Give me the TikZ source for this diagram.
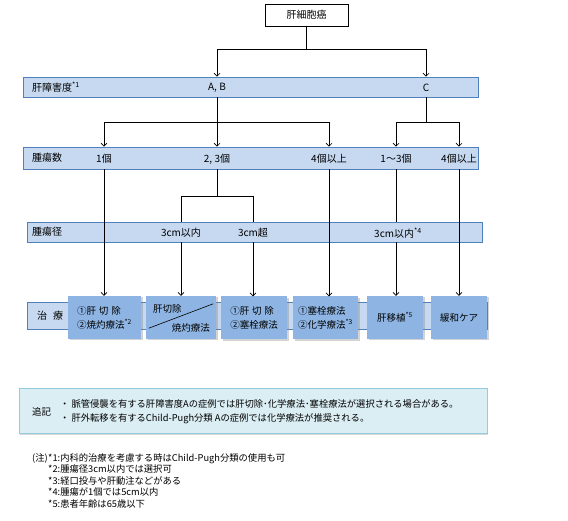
\documentclass[tikz,border=0pt]{standalone}
\usepackage{fontspec}
\setmainfont{Noto Sans CJK JP}
\usetikzlibrary{arrows.meta,shadows}
\definecolor{bandfill}{HTML}{C6D9F1}
\definecolor{banddraw}{HTML}{4F81BD}
\definecolor{boxfill}{HTML}{8DB4E2}
\definecolor{notefill}{HTML}{DBEEF4}
\definecolor{notedraw}{HTML}{93CDDD}
\tikzset{
  arr/.style={-{Straight Barb[length=3pt,width=6pt]}, line width=0.6pt},
  conn/.style={line width=0.6pt},
  band/.style={draw=banddraw, fill=bandfill, line width=0.8pt, inner sep=0pt,
    drop shadow={opacity=0.3, shadow xshift=1pt, shadow yshift=-1.5pt}},
  bandlabel/.style={anchor=west, inner sep=0pt, font=\fontsize{10}{12}\selectfont},
  treat/.style={fill=boxfill, inner sep=0pt, minimum height=43pt, align=left,
    font=\fontsize{9.5}{14}\selectfont,
    drop shadow={opacity=0.35, shadow xshift=1.5pt, shadow yshift=-1.5pt}}
}
\begin{document}
\begin{tikzpicture}[x=1pt,y=-1pt,font=\fontsize{10}{12}\selectfont]
\useasboundingbox (0,0) rectangle (568,521);
% bands
 \node[band, minimum width=455pt, minimum height=20pt] (liver) at (250.5,87) {};
 \node[band, minimum width=455pt, minimum height=22pt] (count) at (250.5,158) {};
 \node[band, minimum width=455pt, minimum height=20pt] (size) at (254.5,232) {};
 \node[band, minimum width=460pt, minimum height=27pt] (cure) at (257,315.5) {};
 \node[bandlabel] (liverlab) at (32,87) {肝障害度\textsuperscript{*1}};
 \node[bandlabel] (countlab) at (32,158) {腫瘍数};
 \node[bandlabel] (sizelab) at (32,232) {腫瘍径};
 \node[bandlabel] (curelab) at (37,315.5) {治\hspace{0.6em}療};
% values
 \node[draw, fill=white, line width=0.8pt, minimum width=83pt, minimum height=22pt] (hcc) at (306.5,15) {肝細胞癌};
 \begin{scope}[every node/.style={inner sep=1pt}]
  \node (ab) at (217,88) {A, B};
  \node (c) at (426,88) {C};
  \node (n1) at (104,159) {1個};
  \node (n23) at (217,159) {2, 3個};
  \node (n4) at (329,159) {4個以上};
  \node (n13) at (396,159) {1〜3個};
  \node (n4c) at (459,159) {4個以上};
  \node (s3a) at (181,233) {3cm以内};
  \node (s3b) at (253,233) {3cm超};
  \node (s3c) at (398,233) {3cm以内\textsuperscript{*4}};
 \end{scope}
% treatments
 \begin{scope}[every node/.style={treat}]
  \node[minimum width=73pt] (t1) at (104.5,317.5) {①肝\hspace{0.3em}切\hspace{0.3em}除\\②焼灼療法\textsuperscript{*2}};
  \node[minimum width=70pt] (t2) at (181,317.5) {};
  \node[minimum width=66pt] (t3) at (254,318) {①肝\hspace{0.3em}切\hspace{0.3em}除\\②塞栓療法};
  \node[minimum width=65pt] (t4) at (325.5,318) {①塞栓療法\\②化学療法\textsuperscript{*3}};
  \node[minimum width=56pt] (t5) at (395,317.5) {肝移植\textsuperscript{*5}};
  \node[minimum width=56pt] (t6) at (459,317.5) {緩和ケア};
 \end{scope}
 \node[inner sep=0pt, anchor=west, font=\fontsize{9.5}{12}\selectfont] (t2a) at (153,309) {肝切除};
 \node[inner sep=0pt, anchor=east, font=\fontsize{9.5}{12}\selectfont] (t2b) at (210,328) {焼灼療法};
 \draw[line width=0.6pt] ([shift={(3,-11)}]t2.south west) -- ([shift={(-3,8)}]t2.north east);
% connectors
 \coordinate (j1) at (306.5,49);
 \coordinate (j2) at (217,122);
 \coordinate (j3) at (426,122);
 \coordinate (j4) at (217,196);
 \draw[conn] (hcc) -- (j1);
 \draw[arr] (j1) -| (ab |- liver.north);
 \draw[arr] (j1) -| (c |- liver.north);
 \draw[conn] (ab |- liver.south) -- (j2);
 \draw[arr] (j2) -| (n1 |- count.north);
 \draw[arr] (j2) -- (n23 |- count.north);
 \draw[arr] (j2) -| (n4 |- count.north);
 \draw[conn] (c |- liver.south) -- (j3);
 \draw[arr] (j3) -| (n13 |- count.north);
 \draw[arr] (j3) -| (n4c |- count.north);
 \draw[conn] (n23 |- count.south) -- (j4);
 \draw[conn] (j4) -| (s3a |- size.north);
 \draw[conn] (j4) -| (s3b |- size.north);
 \draw[conn] (n13 |- count.south) -- (n13 |- size.north);
 \draw[arr] (n1 |- count.south) -- (n1 |- t1.north);
 \draw[arr] (s3a |- size.south) -- (s3a |- t2.north);
 \draw[arr] (s3b |- size.south) -- (s3b |- t3.north);
 \draw[arr] (n4 |- count.south) -- (n4 |- t4.north);
 \draw[arr] (n13 |- size.south) -- (n13 |- t5.north);
 \draw[arr] (n4c |- count.south) -- (n4c |- t6.north);
% note
 \node[draw=notedraw, fill=notefill, line width=0.8pt, minimum width=468pt, minimum height=45pt,
   drop shadow={opacity=0.3, shadow xshift=1pt, shadow yshift=-1.5pt}] (note) at (253,410.5) {};
 \node[anchor=west, inner sep=0pt, font=\fontsize{9.5}{12}\selectfont] (notelab) at (32,412) {追記};
 \node[anchor=west, inner sep=0pt, align=left, font=\fontsize{9.3}{14}\selectfont] (notetext) at (60,412)
   {・ 脈管侵襲を有する肝障害度Aの症例では肝切除･化学療法･塞栓療法が選択される場合がある。\\
    ・ 肝外転移を有するChild-Pugh分類 Aの症例では化学療法が推奨される。};
% footnotes
 \node[anchor=north east, inner sep=0pt, font=\fontsize{9.3}{11.5}\selectfont] (fnhead) at (48,453) {(注)};
 \node[anchor=north west, inner sep=0pt, align=left, font=\fontsize{9.3}{11.5}\selectfont] (fnlist) at (48,453)
   {*1:内科的治療を考慮する時はChild-Pugh分類の使用も可\\
    *2:腫瘍径3cm以内では選択可\\
    *3:経口投与や肝動注などがある\\
    *4:腫瘍が1個では5cm以内\\
    *5:患者年齢は65歳以下};
\end{tikzpicture}
\end{document}
